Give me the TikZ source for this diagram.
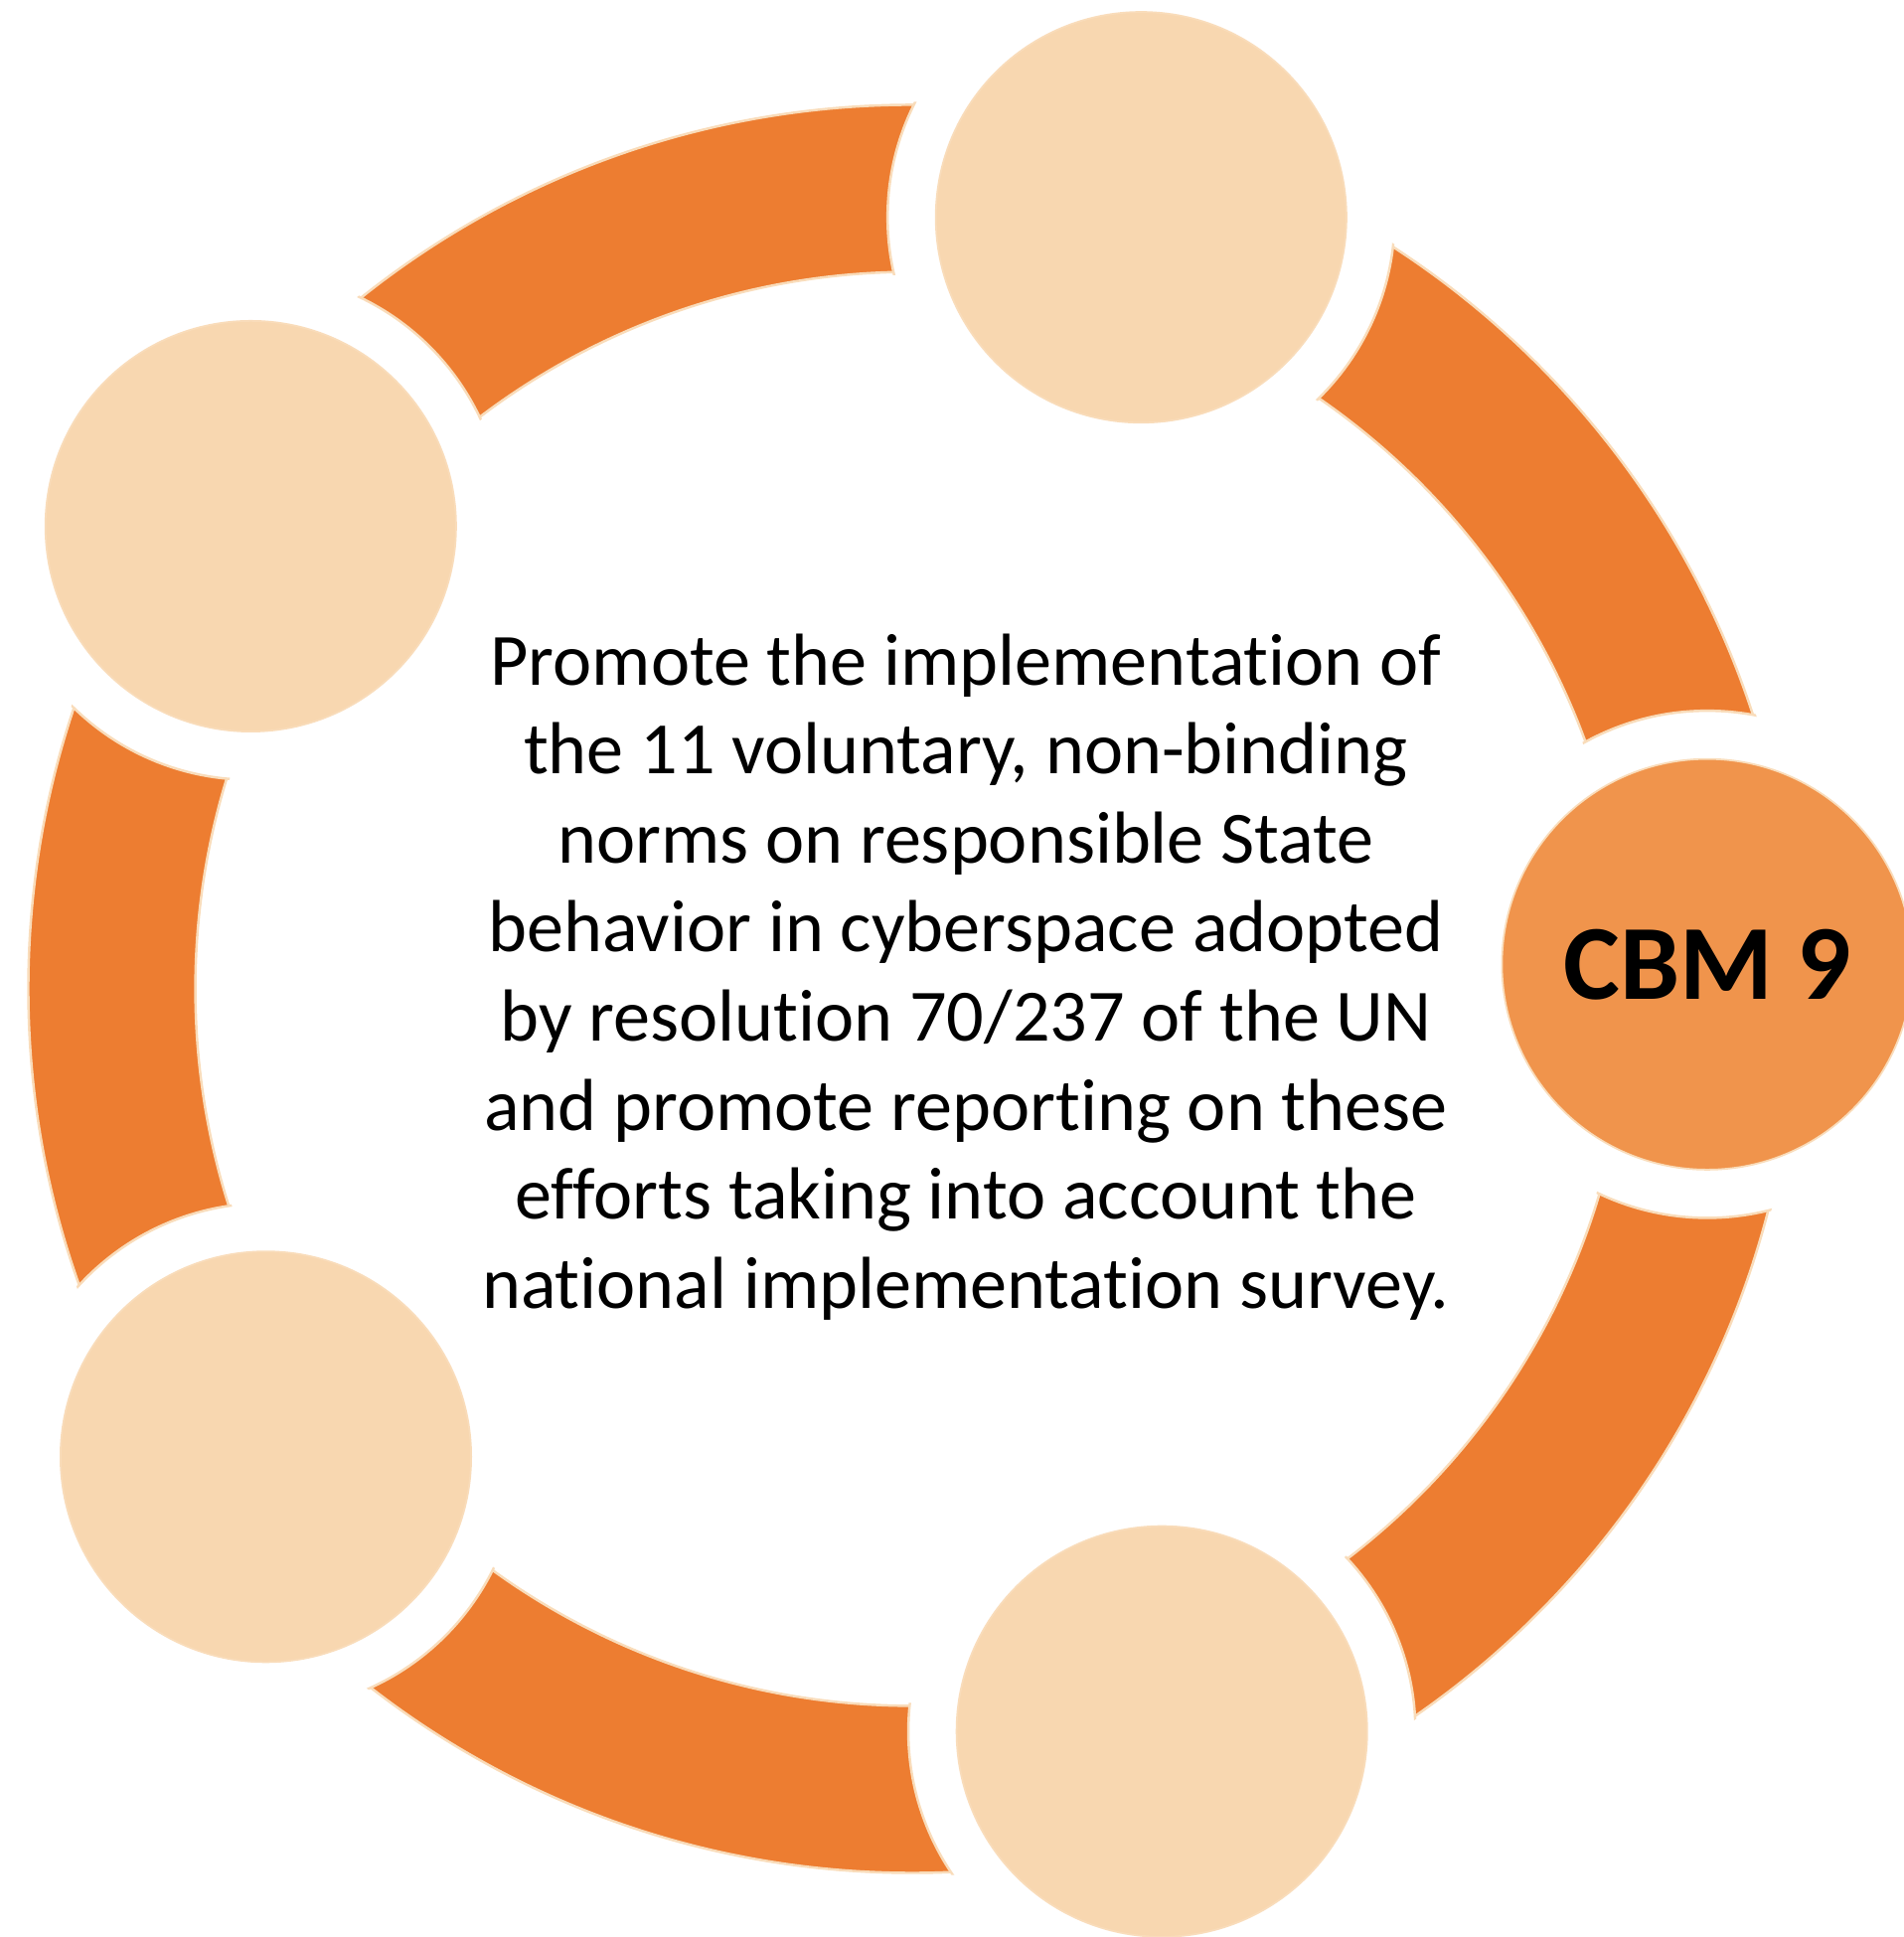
\documentclass[tikz,border=0pt]{standalone}
\usepackage{fontspec}
\setmainfont{Carlito}[Ligatures=NoCommon]
\definecolor{arcor}{HTML}{ED7D31}
\definecolor{peach}{HTML}{F8D7B0}
\definecolor{cbm}{HTML}{F0944C}
\definecolor{rim}{HTML}{F9DCBA}
\begin{document}
\begin{tikzpicture}[x=0.01cm,y=0.01cm,
  item/.style={circle, minimum size=4.13cm, inner sep=0pt, fill=peach, draw=rim, line width=0.5pt},
  rimline/.style={draw=rim, line width=0.7pt}]
\useasboundingbox (0,0) rectangle (1915,1949);
\coordinate (R) at (918,954);
\coordinate (cA) at (1148.3,1730.3);
\coordinate (cB) at (252.3,1419.5);
\coordinate (cC) at (267.5,483.2);
\coordinate (cD) at (1169.2,206.8);
\coordinate (cE) at (1718,978.7);
% ring
\path[fill=arcor, rimline, even odd rule] (R) circle[radius=8.89cm] (R) circle[radius=7.21cm];
\foreach \c in {cA,cB,cC,cD,cE} \fill[white] (\c) circle[radius=2.55cm];
\begin{scope}[even odd rule]
  \clip (R) circle[radius=8.92cm] (R) circle[radius=7.18cm];
  \foreach \c in {cA,cB,cC,cD,cE} \draw[rimline] (\c) circle[radius=2.55cm];
\end{scope}
% nodes
\node[item] (n1) at (cA) {};
\node[item] (n2) at (cB) {};
\node[item] (n3) at (cC) {};
\node[item] (n4) at (cD) {};
\node[item, fill=cbm, font=\bfseries\fontsize{30.5}{36}\selectfont] (n5) at (cE) {CBM 9};
\node[align=center, inner sep=0pt, font=\fontsize{21.1}{25.47}\selectfont] (txt) at (972,966)
  {Promote the implementation of\\
   the 11 voluntary, non-binding\\
   norms on responsible State\\
   behavior in cyberspace adopted\\
   by resolution 70/237 of the UN\\
   and promote reporting on these\\
   efforts taking into account the\\
   national implementation survey.};
\end{tikzpicture}
\end{document}
